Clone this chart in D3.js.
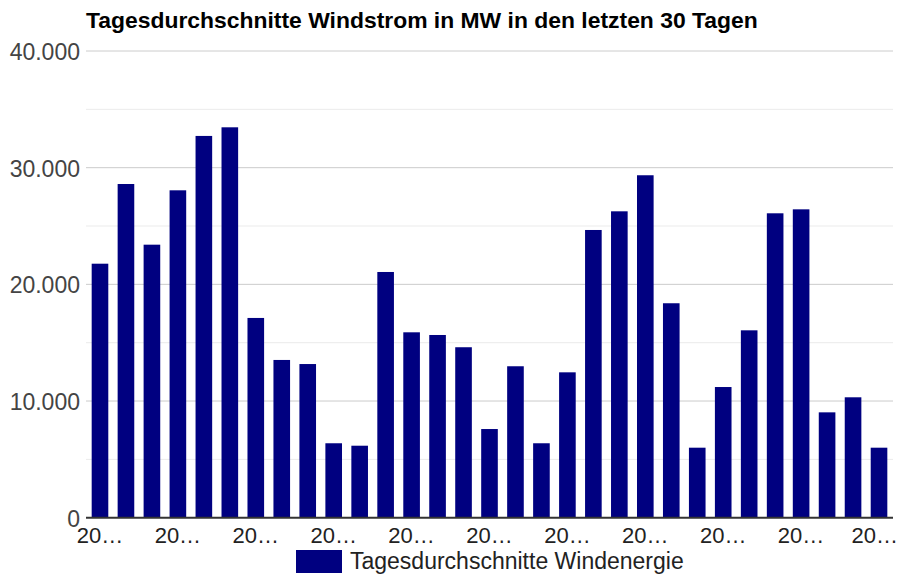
<!DOCTYPE html>
<html>
<head>
<meta charset="utf-8">
<script src="https://cdn.jsdelivr.net/npm/d3@7"></script>
<style>
  body { margin: 0; background: #fff; }
  text { font-family: Arial, "Liberation Sans", sans-serif; }
</style>
</head>
<body>
<svg></svg>
<script>
// Chart data
var chartTitle = "Tagesdurchschnitte Windstrom in MW in den letzten 30 Tagen";
var seriesName = "Tagesdurchschnitte Windenergie";
var days = d3.range(31);
var windValues = [21770, 28600, 23400, 28060, 32720, 33460, 17120, 13520, 13170, 6380,
                  6170, 21060, 15890, 15660, 14610, 7600, 12980, 6380, 12460, 24660,
                  26260, 29350, 18380, 6000, 11200, 16060, 26090, 26430, 9030, 10320, 6000];
var yTicks = [0, 10000, 20000, 30000, 40000];
var yMinorTicks = [5000, 15000, 25000, 35000];
var xTickDays = [0, 3, 6, 9, 12, 15, 18, 21, 24, 27, 30];
var xTickLabels = ["20…", "20…", "20…", "20…", "20…", "20…", "20…", "20…", "20…", "20…", "20…"];

var width = 900, height = 576;
var plotLeft = 87, plotRight = 892, plotTop = 51, plotBottom = 517.7;
var barColor = "#000080";

var svg = d3.select("svg")
	.attr("width", width)
	.attr("height", height);

var x = d3.scaleBand()
	.domain(days)
	.range([plotLeft, plotRight])
	.paddingInner(0.36)
	.paddingOuter(0.18);

var y = d3.scaleLinear()
	.domain([0, 40000])
	.range([plotBottom, plotTop]);

var fmt = function(v) { return d3.format(",")(v).replace(/,/g, "."); };

// Title
svg.append("text")
	.attr("x", 86)
	.attr("y", 28)
	.attr("font-size", "22.9px")
	.attr("font-weight", "bold")
	.attr("fill", "#000")
	.text(chartTitle);

// Minor gridlines
svg.append("g")
	.selectAll("line")
	.data(yMinorTicks)
	.enter().append("line")
		.attr("x1", plotLeft - 1)
		.attr("x2", plotRight + 1)
		.attr("y1", function(d) { return y(d); })
		.attr("y2", function(d) { return y(d); })
		.attr("stroke", "#ebebeb")
		.attr("stroke-width", 1);

// Major gridlines
svg.append("g")
	.selectAll("line")
	.data(yTicks.slice(1))
	.enter().append("line")
		.attr("x1", plotLeft - 1)
		.attr("x2", plotRight + 1)
		.attr("y1", function(d) { return y(d); })
		.attr("y2", function(d) { return y(d); })
		.attr("stroke", "#cccccc")
		.attr("stroke-width", 1);

// Y axis labels
svg.append("g")
	.selectAll("text")
	.data(yTicks)
	.enter().append("text")
		.attr("x", 80)
		.attr("y", function(d) { return y(d) + 9; })
		.attr("text-anchor", "end")
		.attr("font-size", "23px")
		.attr("fill", "#444")
		.text(function(d) { return fmt(d); });

// Bars
svg.append("g")
	.selectAll("rect")
	.data(windValues)
	.enter().append("rect")
		.attr("x", function(d, i) { return x(days[i]); })
		.attr("y", function(d) { return y(d); })
		.attr("width", x.bandwidth())
		.attr("height", function(d) { return y(0) - y(d); })
		.attr("fill", barColor);

// Baseline
svg.append("line")
	.attr("x1", plotLeft - 1)
	.attr("x2", plotRight + 1)
	.attr("y1", y(0))
	.attr("y2", y(0))
	.attr("stroke", "#333")
	.attr("stroke-width", 2);

// X axis labels (kept inside the picture)
svg.append("g")
	.selectAll("text")
	.data(xTickDays)
	.enter().append("text")
		.attr("x", function(d) { return x(d) + x.bandwidth() / 2; })
		.attr("y", 543)
		.attr("text-anchor", "middle")
		.attr("font-size", "22px")
		.attr("fill", "#222")
		.text(function(d, i) { return xTickLabels[i]; })
		.each(function(d) {
			var half = this.getComputedTextLength() / 2;
			var cx = x(d) + x.bandwidth() / 2;
			if (cx + half > width - 2) d3.select(this).attr("x", width - 2 - half);
		});

// Legend
var legend = svg.append("g");
legend.append("rect")
	.attr("x", 296)
	.attr("y", 550)
	.attr("width", 46)
	.attr("height", 23)
	.attr("fill", barColor);
legend.append("text")
	.attr("x", 350)
	.attr("y", 569)
	.attr("font-size", "23px")
	.attr("fill", "#222")
	.text(seriesName);
</script>
</body>
</html>
